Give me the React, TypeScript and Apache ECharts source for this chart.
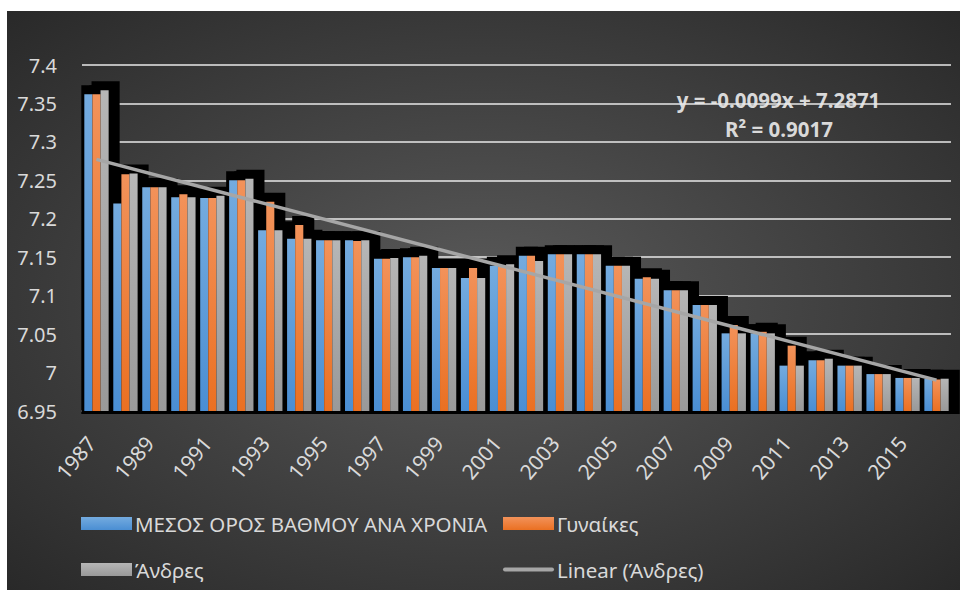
import React, { useEffect, useRef } from "react";
import * as echarts from "echarts";

const categories = [
  "1987", "1988", "1989", "1990", "1991", "1992", "1993", "1994", "1995", "1996",
  "1997", "1998", "1999", "2000", "2001", "2002", "2003", "2004", "2005", "2006",
  "2007", "2008", "2009", "2010", "2011", "2012", "2013", "2014", "2015", "2016",
];

const averageValues = [
  7.362, 7.220, 7.241, 7.228, 7.227, 7.250, 7.185, 7.174, 7.172, 7.172,
  7.148, 7.150, 7.136, 7.123, 7.139, 7.152, 7.154, 7.154, 7.139, 7.122,
  7.107, 7.088, 7.051, 7.051, 7.009, 7.016, 7.009, 6.998, 6.993, 6.992,
];

const womenValues = [
  7.362, 7.258, 7.241, 7.232, 7.227, 7.250, 7.222, 7.192, 7.172, 7.171,
  7.148, 7.150, 7.136, 7.136, 7.138, 7.152, 7.154, 7.154, 7.139, 7.124,
  7.107, 7.088, 7.062, 7.053, 7.035, 7.016, 7.009, 6.998, 6.993, 6.991,
];

const menValues = [
  7.367, 7.259, 7.241, 7.228, 7.230, 7.252, 7.185, 7.174, 7.172, 7.172,
  7.149, 7.152, 7.136, 7.123, 7.141, 7.145, 7.154, 7.154, 7.139, 7.122,
  7.107, 7.088, 7.051, 7.051, 7.009, 7.018, 7.009, 6.998, 6.993, 6.992,
];

// Linear trend (Άνδρες): y = -0.0099x + 7.2871, endpoints at x = 1 and x = 30
const trendStart = 7.2772;
const trendEnd = 6.9901;

const seriesNames = ["ΜΕΣΟΣ ΟΡΟΣ ΒΑΘΜΟΥ ΑΝΑ ΧΡΟΝΙΑ", "Γυναίκες", "Άνδρες", "Linear (Άνδρες)"];
const equationText = "y = -0.0099x + 7.2871";
const r2Text = "R² = 0.9017";

const Y_MIN = 6.95;
const Y_MAX = 7.4;
const Y_STEP = 0.05;
const CAT_GAP = 0.16;

const FONT = "'Noto Sans', 'DejaVu Sans', sans-serif";
const TEXT_COLOR = "#d9d9d9";

function vGrad(top: string, bottom: string) {
  return {
    type: "linear", x: 0, y: 0, x2: 0, y2: 1,
    colorStops: [
      { offset: 0, color: top },
      { offset: 1, color: bottom },
    ],
  };
}

export default function App() {
  const ref = useRef<HTMLDivElement>(null);

  useEffect(() => {
    if (!ref.current) return;
    const chart = echarts.init(ref.current, undefined, { renderer: "svg" });
    const W = 953;
    const H = 579;

    const shadowData = categories.map((c, i) => [i, averageValues[i], womenValues[i], menValues[i]]);

    const option: any = {
      animation: false,
      graphic: [
        {
          type: "rect",
          z: -100,
          silent: true,
          shape: { x: 0, y: 0, width: W, height: H },
          style: {
            fill: {
              type: "radial", x: 0.5, y: 0.5, r: 0.75,
              colorStops: [
                { offset: 0, color: "#5a5a5a" },
                { offset: 1, color: "#262626" },
              ],
            },
          },
        },
        {
          type: "text",
          z: -1,
          x: 771.5,
          y: 89,
          style: {
            text: equationText,
            fill: TEXT_COLOR,
            font: `bold 20.5px ${FONT}`,
            align: "center",
            verticalAlign: "middle",
          },
        },
        {
          type: "text",
          z: -1,
          x: 772,
          y: 118,
          style: {
            text: r2Text,
            fill: TEXT_COLOR,
            font: `bold 20.5px ${FONT}`,
            align: "center",
            verticalAlign: "middle",
          },
        },
      ],
      grid: { left: 75, top: 54, right: 9, bottom: 179, containLabel: false },
      xAxis: {
        type: "category",
        data: categories,
        axisLine: { show: true, lineStyle: { color: "#eeeeee", width: 2 } },
        axisTick: { show: false },
        axisLabel: {
          interval: 1,
          rotate: 50,
          margin: 22,
          padding: [0, 8, 0, 0],
          color: TEXT_COLOR,
          fontSize: 21,
          fontFamily: FONT,
        },
      },
      yAxis: {
        type: "value",
        min: Y_MIN,
        max: Y_MAX,
        interval: Y_STEP,
        axisLine: { show: false },
        axisTick: { show: false },
        splitLine: { show: true, lineStyle: { color: "#e8e8e8", width: 1.6 } },
        axisLabel: {
          margin: 25,
          color: TEXT_COLOR,
          fontSize: 20,
          fontFamily: FONT,
          formatter: (v: number) => String(Number(v.toFixed(2))),
        },
      },
      legend: [
        {
          left: 69,
          top: 497,
          orient: "vertical",
          itemGap: 25,
          itemWidth: 51,
          itemHeight: 13,
          selectedMode: false,
          textStyle: { color: TEXT_COLOR, fontSize: 20.5, fontFamily: FONT, padding: [0, 0, 0, -2] },
          data: [
            { name: seriesNames[0], icon: "rect" },
            { name: seriesNames[2], icon: "rect" },
          ],
        },
        {
          left: 491,
          top: 497,
          orient: "vertical",
          itemGap: 25,
          itemWidth: 51,
          itemHeight: 13,
          selectedMode: false,
          textStyle: { color: TEXT_COLOR, fontSize: 20.5, fontFamily: FONT, padding: [0, 0, 0, -2] },
          data: [
            { name: seriesNames[1], icon: "rect" },
            { name: seriesNames[3], icon: "path://M2,0 L49,0 A2,2 0 0 1 49,4 L2,4 A2,2 0 0 1 2,0 Z" },
          ],
        },
      ],
      series: [
        {
          type: "custom",
          name: "shadow",
          z: 1,
          silent: true,
          data: shadowData,
          encode: { x: 0, y: [1, 2, 3] },
          renderItem: (params: any, api: any) => {
            const idx = api.value(0);
            const band = api.size([1, 0])[0];
            const bw = (band * (1 - CAT_GAP)) / 3;
            const center = api.coord([idx, Y_MIN])[0];
            const baseY = api.coord([idx, Y_MIN])[1];
            const children: any[] = [];
            for (let k = 0; k < 3; k++) {
              const v = api.value(k + 1);
              const topY = api.coord([idx, v])[1];
              const left = center - 1.5 * bw + k * bw;
              const sx = left - 3 - (k === 2 ? 6 : 0);
              const ex = left + bw + 11;
              children.push({
                type: "rect",
                shape: { x: sx, y: topY - 9, width: ex - sx, height: baseY + 3 - (topY - 9) },
                style: { fill: "#000000" },
              });
            }
            return { type: "group", children };
          },
        },
        {
          type: "bar",
          name: seriesNames[0],
          data: averageValues,
          barGap: "0%",
          barCategoryGap: "16%",
          z: 2,
          itemStyle: { color: vGrad("#74abdf", "#4a8ed3") },
        },
        {
          type: "bar",
          name: seriesNames[1],
          data: womenValues,
          barGap: "0%",
          barCategoryGap: "16%",
          z: 2,
          itemStyle: { color: vGrad("#f2925a", "#ea7022") },
        },
        {
          type: "bar",
          name: seriesNames[2],
          data: menValues,
          barGap: "0%",
          barCategoryGap: "16%",
          z: 2,
          itemStyle: { color: vGrad("#b6b6b6", "#999999") },
        },
        {
          type: "line",
          name: seriesNames[3],
          z: 3,
          symbol: "none",
          data: [
            [categories[0], trendStart],
            [categories[categories.length - 1], trendEnd],
          ],
          lineStyle: { color: "#a6a6a6", width: 3.5 },
          itemStyle: { color: "#a6a6a6" },
        },
      ],
    };

    chart.setOption(option);
    return () => {
      chart.dispose();
    };
  }, []);

  return (
    <div
      ref={ref}
      style={{ position: "absolute", left: 7, top: 11, width: 953, height: 579 }}
    />
  );
}
